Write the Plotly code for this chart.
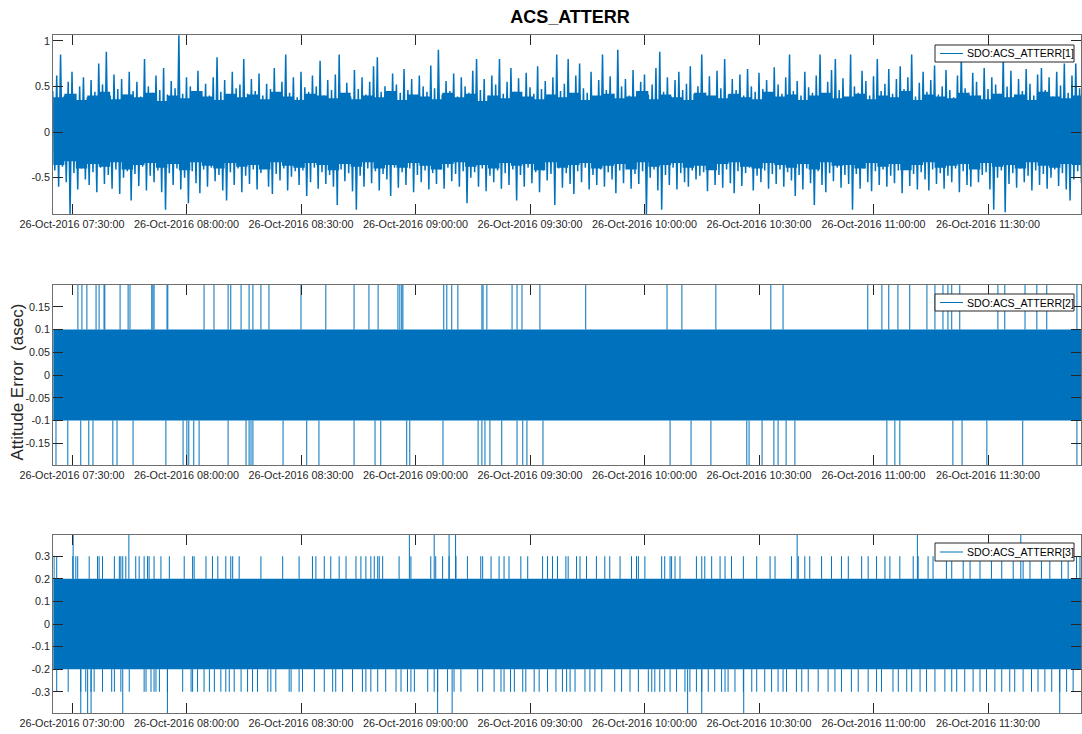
import pandas as pd
import plotly.graph_objects as go

# ---------------- data ----------------
T0 = "2016-10-26 07:25:00"
X_RANGE = ["2016-10-26 07:25:06", "2016-10-26 11:54:22"]

# Panel 1: per-minute upper / lower extremes of SDO:ACS_ATTERR[1] (asec)
p1_hi = [0.45, 0.62, 0.85, 0.4, 0.55, 0.66, 0.42, 0.5, 0.6, 0.38,
         0.57, 0.44, 0.75, 0.52, 0.88, 0.4, 0.63, 0.47, 0.58, 0.41,
         0.66, 0.45, 0.55, 0.39, 0.8, 0.5, 0.43, 0.62, 0.46, 0.7,
         0.41, 0.56, 0.48, 1.06, 0.42, 0.6, 0.5, 0.38, 0.67, 0.45,
         0.53, 0.4, 0.6, 0.82, 0.44, 0.57, 0.39, 0.66, 0.48, 0.52,
         0.8, 0.42, 0.58, 0.45, 0.64, 0.4, 0.53, 0.47, 0.7, 0.41,
         0.55, 0.85, 0.43, 0.6, 0.38, 0.66, 0.49, 0.44, 0.62, 0.5,
         0.78, 0.4, 0.57, 0.46, 0.63, 0.85, 0.42, 0.54, 0.39, 0.68,
         0.47, 0.6, 0.41, 0.55, 0.72, 0.82, 0.44, 0.5, 0.38, 0.64,
         0.52, 0.43, 0.69, 0.46, 0.58, 0.4, 0.62, 0.5, 0.44, 0.73,
         0.48, 0.9, 0.41, 0.56, 0.45, 0.64, 0.39, 0.6, 0.5, 0.43,
         0.67, 0.8, 0.46, 0.58, 0.4, 0.62, 0.52, 0.8, 0.42, 0.55,
         0.7, 0.44, 0.59, 0.38, 0.65, 0.49, 0.42, 0.72, 0.47, 0.56,
         0.41, 0.6, 0.85, 0.45, 0.53, 0.8, 0.4, 0.62, 0.75, 0.48,
         0.43, 0.66, 0.39, 0.57, 0.85, 0.46, 0.61, 0.42, 0.9, 0.5,
         0.58, 0.4, 0.68, 0.45, 0.55, 0.63, 0.41, 0.52, 0.7, 0.88,
         0.44, 0.6, 0.39, 0.57, 0.66, 0.46, 0.53, 0.72, 0.42, 0.5,
         0.85, 0.43, 0.61, 0.38, 0.67, 0.48, 0.8, 0.41, 0.58, 0.46,
         0.63, 0.4, 0.69, 0.5, 0.44, 0.65, 0.47, 0.57, 0.39, 0.71,
         0.52, 0.42, 0.6, 0.85, 0.45, 0.56, 0.4, 0.66, 0.49, 0.43,
         0.62, 0.85, 0.41, 0.55, 0.68, 0.8, 0.46, 0.59, 0.38, 0.85,
         0.5, 0.43, 0.67, 0.56, 0.4, 0.61, 0.8, 0.45, 0.53, 0.69,
         0.42, 0.58, 0.72, 0.47, 0.6, 0.85, 0.39, 0.54, 0.66, 0.44,
         0.57, 0.73, 0.41, 0.5, 0.68, 0.46, 0.38, 0.62, 0.85, 0.48,
         0.43, 0.65, 0.55, 0.4, 0.7, 0.47, 0.6, 0.52, 0.42, 0.85,
         0.5, 0.67, 0.41, 0.58, 0.45, 0.69, 0.53, 0.4, 0.63, 0.7,
         0.46, 0.6, 0.39, 0.66, 0.51, 0.75, 0.43, 0.62, 0.75, 0.48]
p1_lo = [-0.42, -0.6, -0.38, -0.55, -0.9, -0.45, -0.63, -0.4, -0.52, -0.58,
         -0.44, -0.66, -0.39, -0.57, -0.47, -0.62, -0.41, -0.68, -0.5, -0.43,
         -0.75, -0.46, -0.59, -0.38, -0.64, -0.48, -0.55, -0.42, -0.66, -0.85,
         -0.45, -0.58, -0.4, -0.63, -0.5, -0.78, -0.43, -0.56, -0.67, -0.41,
         -0.6, -0.39, -0.54, -0.47, -0.64, -0.75, -0.44, -0.58, -0.4, -0.66,
         -0.48, -0.57, -0.41, -0.63, -0.45, -0.38, -0.6, -0.68, -0.46, -0.53,
         -0.4, -0.64, -0.49, -0.43, -0.58, -0.42, -0.7, -0.55, -0.39, -0.62,
         -0.44, -0.57, -0.47, -0.6, -0.8, -0.41, -0.54, -0.45, -0.65, -0.85,
         -0.48, -0.6, -0.4, -0.56, -0.43, -0.64, -0.46, -0.52, -0.7, -0.39,
         -0.61, -0.44, -0.58, -0.4, -0.66, -0.47, -0.55, -0.42, -0.63, -0.45,
         -0.57, -0.41, -0.62, -0.39, -0.54, -0.46, -0.6, -0.43, -0.78, -0.5,
         -0.44, -0.6, -0.4, -0.65, -0.48, -0.55, -0.42, -0.62, -0.45, -0.58,
         -0.41, -0.75, -0.47, -0.6, -0.39, -0.56, -0.44, -0.66, -0.42, -0.53,
         -0.46, -0.8, -0.4, -0.61, -0.45, -0.57, -0.68, -0.43, -0.55, -0.39,
         -0.63, -0.47, -0.58, -0.41, -0.6, -0.44, -0.52, -0.67, -0.42, -0.56,
         -0.4, -0.62, -0.46, -0.57, -0.43, -0.9, -0.5, -0.41, -0.64, -0.85,
         -0.47, -0.58, -0.39, -0.63, -0.45, -0.55, -0.6, -0.42, -0.52, -0.48,
         -0.44, -0.65, -0.4, -0.58, -0.47, -0.61, -0.41, -0.56, -0.67, -0.43,
         -0.59, -0.45, -0.39, -0.64, -0.48, -0.55, -0.42, -0.62, -0.46, -0.57,
         -0.41, -0.6, -0.44, -0.53, -0.7, -0.47, -0.63, -0.4, -0.56, -0.8,
         -0.43, -0.58, -0.66, -0.45, -0.54, -0.39, -0.61, -0.47, -0.57, -0.85,
         -0.46, -0.62, -0.4, -0.55, -0.65, -0.43, -0.58, -0.41, -0.6, -0.48,
         -0.56, -0.42, -0.67, -0.39, -0.59, -0.46, -0.63, -0.44, -0.52, -0.64,
         -0.41, -0.57, -0.45, -0.62, -0.48, -0.55, -0.4, -0.66, -0.43, -0.58,
         -0.6, -0.39, -0.55, -0.47, -0.44, -0.63, -0.85, -0.5, -0.42, -0.88,
         -0.57, -0.45, -0.61, -0.4, -0.55, -0.48, -0.64, -0.42, -0.58, -0.46,
         -0.62, -0.5, -0.41, -0.59, -0.45, -0.63, -0.75, -0.52, -0.43, -0.56]
# Panel 1: edges of the densely filled core, one value per 3 minutes
p1_core_hi = [0.38, 0.42, 0.35, 0.4, 0.44, 0.36, 0.41, 0.38, 0.43, 0.34,
              0.4, 0.37, 0.45, 0.39, 0.35, 0.42, 0.38, 0.41, 0.36, 0.44,
              0.39, 0.35, 0.42, 0.4, 0.37, 0.43, 0.36, 0.4, 0.38, 0.45,
              0.35, 0.41, 0.39, 0.36, 0.43, 0.38, 0.42, 0.34, 0.4, 0.37,
              0.44, 0.39, 0.36, 0.41, 0.38, 0.43, 0.35, 0.4, 0.42, 0.37,
              0.39, 0.45, 0.36, 0.41, 0.38, 0.35, 0.43, 0.4, 0.37, 0.42,
              0.38, 0.36, 0.44, 0.39, 0.41, 0.35, 0.4, 0.43, 0.37, 0.39,
              0.42, 0.36, 0.4, 0.38, 0.45, 0.35, 0.41, 0.39, 0.37, 0.43,
              0.4, 0.36, 0.42, 0.38, 0.41, 0.35, 0.44, 0.39, 0.37, 0.4]
p1_core_lo = [-0.36, -0.32, -0.4, -0.35, -0.38, -0.33, -0.41, -0.36, -0.34, -0.39,
              -0.35, -0.42, -0.33, -0.37, -0.4, -0.34, -0.38, -0.36, -0.41, -0.33,
              -0.37, -0.39, -0.34, -0.36, -0.42, -0.35, -0.38, -0.33, -0.4, -0.36,
              -0.39, -0.34, -0.37, -0.41, -0.35, -0.33, -0.38, -0.36, -0.4, -0.34,
              -0.37, -0.35, -0.42, -0.33, -0.39, -0.36, -0.34, -0.4, -0.37, -0.35,
              -0.41, -0.33, -0.38, -0.36, -0.34, -0.39, -0.37, -0.42, -0.35, -0.33,
              -0.38, -0.4, -0.34, -0.36, -0.39, -0.35, -0.41, -0.33, -0.37, -0.36,
              -0.4, -0.34, -0.38, -0.35, -0.42, -0.36, -0.33, -0.39, -0.37, -0.35,
              -0.41, -0.34, -0.38, -0.36, -0.4, -0.33, -0.37, -0.39, -0.35, -0.36]

# Panel 2: quantised signal, core band and spike times (minutes after 07:25)
p2_core = [-0.1, 0.1]
p2_spike_level = 0.2
p2_up_min = [6.55, 7.6, 8.9, 11.3, 12.1, 13.4, 13.6, 17.6, 19.7, 20.2, 25.9, 26.2, 26.5,
             29.9, 30.1, 39.6, 42.2, 45.9, 46.6, 49.3, 51.4, 52.4, 54.5, 56.6, 65.0, 71.5,
             78.9, 82.8, 85.2, 90.4, 90.9, 91.4, 91.7, 102.4, 103.2, 104.5, 106.1, 112.4,
             112.7, 113.7, 120.3, 121.6, 122.9, 127.6, 139.6, 160.9, 164.8, 173.7, 188.1,
             191.3, 213.5, 217.2, 219.0, 221.4, 224.5, 229.0, 231.1, 233.2, 234.5, 235.5,
             237.6, 247.6, 249.4, 254.7, 257.8, 260.4, 268.3]
p2_dn_min = [0.8, 3.9, 7.3, 9.4, 10.5, 15.7, 16.8, 21.0, 29.6, 34.1, 35.1, 35.6, 36.9,
             38.3, 45.9, 50.6, 51.4, 51.9, 52.4, 60.3, 66.5, 69.7, 78.9, 84.4, 85.9, 92.7,
             93.5, 102.2, 111.4, 112.4, 113.2, 114.5, 117.6, 121.6, 123.1, 124.2, 128.4,
             161.7, 167.2, 172.4, 181.8, 182.4, 185.8, 188.9, 190.0, 192.1, 194.4, 218.5,
             220.6, 221.9, 235.8, 238.2, 244.7, 254.1, 268.3]

# Panel 3: quantised signal, core band and spike times (minutes after 07:25)
p3_core = [-0.2, 0.2]
p3_levels = [0.3, 0.4]
p3_up3_min = [0.3, 1.0, 5.2, 6.0, 6.5, 9.5, 11.7, 12.1, 13.0, 16.1, 17.4, 17.8, 18.3, 19.1,
              21.7, 22.6, 23.9, 24.8, 25.2, 26.5, 28.3, 30.5, 34.4, 36.6, 37.0, 40.1, 41.8,
              43.2, 45.3, 46.6, 47.1, 48.8, 54.5, 60.2, 64.5, 68.0, 68.9, 71.1, 72.8, 75.0,
              76.8, 79.4, 80.7, 82.0, 83.3, 84.2, 85.1, 85.5, 86.4, 90.7, 93.8, 99.0, 100.3,
              102.1, 103.8, 105.6, 108.6, 112.1, 112.6, 114.8, 116.9, 118.2, 119.5, 122.6,
              124.4, 128.3, 129.6, 130.9, 132.2, 134.4, 135.0, 137.2, 138.1, 139.8, 142.4,
              144.6, 145.9, 148.6, 151.6, 152.9, 153.4, 155.1, 159.5, 160.3, 161.7, 162.1,
              163.0, 164.3, 168.6, 170.0, 170.8, 172.6, 174.8, 176.1, 177.8, 180.9, 184.4,
              187.9, 189.2, 193.5, 195.3, 197.0, 198.3, 201.4, 204.0, 206.6, 208.4, 211.9,
              213.6, 215.8, 218.0, 219.3, 221.9, 225.4, 226.7, 229.3, 230.6, 234.1, 235.5,
              238.5, 240.3, 242.9, 245.9, 248.6, 251.6, 254.2, 256.0, 259.0, 261.2, 264.3,
              266.0, 268.2, 269.1]
p3_up4_min = [5.3, 19.9, 93.4, 99.9, 103.8, 105.5, 195.0, 226.5, 253.6]
p3_dn3_min = [1.0, 4.0, 7.3, 8.6, 10.0, 10.8, 13.0, 15.4, 16.1, 17.8, 20.0, 23.9, 24.4, 25.7,
              26.5, 27.0, 27.9, 30.0, 34.0, 36.2, 36.6, 37.9, 39.6, 41.0, 42.3, 44.0, 45.3,
              46.2, 47.5, 49.3, 51.0, 52.3, 53.6, 56.3, 57.1, 58.4, 61.9, 62.4, 64.5, 65.4,
              68.5, 71.1, 73.3, 74.1, 75.9, 78.5, 81.1, 82.0, 83.3, 85.1, 87.2, 89.9, 91.2,
              92.9, 93.8, 94.7, 98.2, 99.9, 100.8, 103.4, 105.1, 106.9, 111.3, 112.6, 115.6,
              117.4, 118.2, 119.9, 120.9, 123.1, 123.9, 126.1, 127.4, 129.6, 131.8, 133.5,
              134.6, 135.5, 136.8, 139.4, 140.7, 142.0, 143.8, 147.2, 149.0, 151.2, 153.4,
              156.0, 156.9, 157.7, 159.0, 160.3, 161.7, 163.4, 165.6, 166.9, 168.6, 170.0,
              171.7, 173.4, 175.2, 176.1, 176.9, 178.7, 180.9, 183.1, 184.4, 186.5, 188.3,
              190.0, 191.3, 192.2, 194.8, 196.2, 197.9, 200.5, 203.1, 204.9, 206.6, 209.2,
              211.0, 213.6, 215.8, 217.1, 220.1, 221.5, 223.7, 225.0, 227.2, 228.9, 231.1,
              233.7, 235.5, 236.8, 238.9, 241.1, 242.9, 244.6, 246.8, 248.6, 250.7, 252.0,
              254.2, 256.4, 258.1, 259.9, 261.7, 263.8, 265.6, 267.3]
p3_dn4_min = [7.3, 9.1, 10.0, 18.3, 30.0, 100.8, 104.6, 166.3, 170.0, 181.0, 263.8]

names = ["SDO:ACS_ATTERR[1]", "SDO:ACS_ATTERR[2]", "SDO:ACS_ATTERR[3]"]
y_ranges = [[-0.898, 1.063], [-0.198, 0.198], [-0.394, 0.394]]
y_ticks = [[-0.5, 0, 0.5, 1],
           [-0.15, -0.1, -0.05, 0, 0.05, 0.1, 0.15],
           [-0.3, -0.2, -0.1, 0, 0.1, 0.2, 0.3]]
y_ticktext = [["-0.5", "0", "0.5", "1"],
              ["-0.15", "-0.1", "-0.05", "0", "0.05", "0.1", "0.15"],
              ["-0.3", "-0.2", "-0.1", "0", "0.1", "0.2", "0.3"]]

# ---------------- helpers ----------------
BLUE = "#0072BD"
t0 = pd.Timestamp(T0)


def tm(m):
    return (t0 + pd.to_timedelta(m, unit="min")).strftime("%Y-%m-%d %H:%M:%S.%f")


def spikes(mins, base, level):
    xs, ys = [], []
    for m in mins:
        xs += [tm(m), tm(m), None]
        ys += [base, level, None]
    return xs, ys


def band(fig, lo, hi, xa, ya):
    ends = [tm(0), tm(270)]
    fig.add_trace(go.Scatter(x=ends, y=[lo, lo], mode="lines", line=dict(width=0),
                             showlegend=False, hoverinfo="skip", xaxis=xa, yaxis=ya))
    fig.add_trace(go.Scatter(x=ends, y=[hi, hi], mode="lines", line=dict(width=0),
                             fill="tonexty", fillcolor=BLUE, showlegend=False,
                             hoverinfo="skip", xaxis=xa, yaxis=ya))


fig = go.Figure()

# ---- Panel 1 ----
cx = [tm(3 * i) for i in range(len(p1_core_hi))] + [tm(270)]
fig.add_trace(go.Scatter(x=cx, y=p1_core_lo + p1_core_lo[-1:], mode="lines",
                         line=dict(width=0, shape="hv"), showlegend=False,
                         hoverinfo="skip", xaxis="x", yaxis="y"))
fig.add_trace(go.Scatter(x=cx, y=p1_core_hi + p1_core_hi[-1:], mode="lines",
                         line=dict(width=0, shape="hv"), fill="tonexty", fillcolor=BLUE,
                         showlegend=False, hoverinfo="skip", xaxis="x", yaxis="y"))
zx, zy = [], []
for i, (h, l) in enumerate(zip(p1_hi, p1_lo)):
    zx += [tm(i), tm(i + 0.5)]
    zy += [h, l]
fig.add_trace(go.Scatter(x=zx, y=zy, mode="lines", line=dict(color=BLUE, width=1.5),
                         name=names[0], showlegend=False, xaxis="x", yaxis="y"))

# ---- Panel 2 ----
band(fig, p2_core[0], p2_core[1], "x2", "y2")
ux, uy = spikes(p2_up_min, p2_core[1], p2_spike_level)
dx, dy = spikes(p2_dn_min, p2_core[0], -p2_spike_level)
fig.add_trace(go.Scatter(x=ux + dx, y=uy + dy, mode="lines", line=dict(color=BLUE, width=1),
                         name=names[1], showlegend=False, xaxis="x2", yaxis="y2"))

# ---- Panel 3 ----
band(fig, p3_core[0], p3_core[1], "x3", "y3")
sx, sy = [], []
for mins, sign, lev in [(p3_up3_min, 1, p3_levels[0]), (p3_up4_min, 1, p3_levels[1]),
                        (p3_dn3_min, -1, p3_levels[0]), (p3_dn4_min, -1, p3_levels[1])]:
    a, b = spikes(mins, sign * p3_core[1], sign * lev)
    sx += a
    sy += b
fig.add_trace(go.Scatter(x=sx, y=sy, mode="lines", line=dict(color=BLUE, width=1),
                         name=names[2], showlegend=False, xaxis="x3", yaxis="y3"))

# ---------------- layout ----------------
W, H = 1082, 734
x_dom = [53.3 / W, 1081 / W]
y_doms = [[1 - 214 / H, 1 - 35 / H], [1 - 465 / H, 1 - 285 / H], [1 - 713 / H, 1 - 535 / H]]
FONT = "Liberation Sans, Arial, Helvetica, sans-serif"
tickfont = dict(family=FONT, size=10.8, color="#262626")

axis_common = dict(showline=True, linecolor="#6e6e6e", linewidth=1, mirror="ticks",
                   ticks="inside", ticklen=10, tickwidth=1, tickcolor="#262626",
                   showgrid=False, zeroline=False, tickfont=tickfont, automargin=False)

layout = dict(
    width=W, height=H, margin=dict(l=0, r=0, t=0, b=0), showlegend=False,
    paper_bgcolor="white", plot_bgcolor="white",
    title=dict(text="<b>ACS_ATTERR</b>", x=570 / W, xanchor="center", y=1 - 17 / H,
               yanchor="middle", font=dict(family=FONT, size=18, color="#000000")),
)
for k in range(3):
    sfx = "" if k == 0 else str(k + 1)
    layout["xaxis" + sfx] = dict(axis_common, domain=x_dom, anchor="y" + sfx,
                                 type="date", range=X_RANGE,
                                 tick0="2016-10-26 07:30:00", dtick=30 * 60 * 1000,
                                 tickformat="%d-%b-%Y %H:%M:%S")
    layout["yaxis" + sfx] = dict(axis_common, domain=y_doms[k], anchor="x" + sfx,
                                 range=y_ranges[k], tickmode="array",
                                 tickvals=y_ticks[k], ticktext=y_ticktext[k])
fig.update_layout(**layout)

# legend boxes (one per panel, MATLAB style)
leg_boxes = [(45, 62), (294, 311), (543, 561)]
for k, (top, bot) in enumerate(leg_boxes):
    yc = (top + bot) / 2
    fig.add_shape(type="rect", xref="paper", yref="paper", x0=935 / W, x1=1074 / W,
                  y0=1 - bot / H, y1=1 - top / H, line=dict(color="#262626", width=1),
                  fillcolor="white", layer="above")
    fig.add_shape(type="line", xref="paper", yref="paper", x0=940 / W, x1=963 / W,
                  y0=1 - yc / H, y1=1 - yc / H, line=dict(color=BLUE, width=1),
                  layer="above")
    fig.add_annotation(text=names[k], xref="paper", yref="paper", x=965 / W, y=1 - yc / H,
                       xanchor="left", yanchor="middle", showarrow=False,
                       font=dict(family=FONT, size=10.6, color="#000000"))

fig.add_annotation(text="Attitude Error  (asec)", xref="paper", yref="paper",
                   x=16.5 / W, y=1 - 382 / H, textangle=-90, showarrow=False,
                   xanchor="center", yanchor="middle",
                   font=dict(family=FONT, size=17, color="#262626"))

fig.write_html("out.html")
